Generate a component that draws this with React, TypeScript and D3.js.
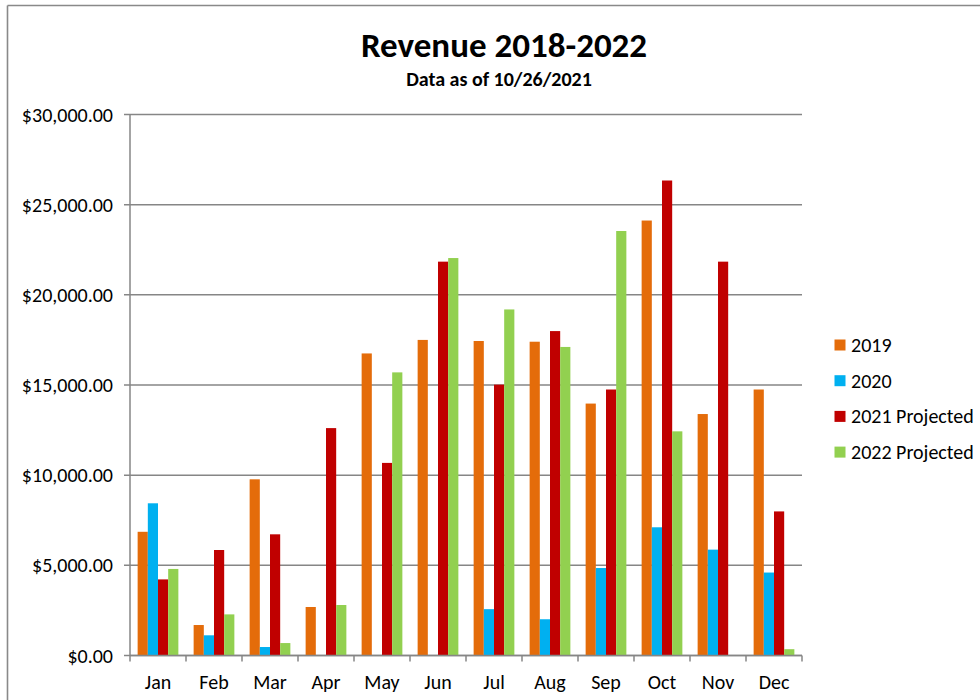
import React from "react";
import * as d3 from "d3";

const months = ["Jan", "Feb", "Mar", "Apr", "May", "Jun", "Jul", "Aug", "Sep", "Oct", "Nov", "Dec"];
const seriesNames = ["2019", "2020", "2021 Projected", "2022 Projected"];
const seriesColors = ["#E46C0A", "#00B0F0", "#C00000", "#92D050"];
const values2019 = [6860, 1690, 9770, 2690, 16750, 17500, 17440, 17400, 13970, 24120, 13390, 14750];
const values2020 = [8440, 1120, 470, 0, 0, 0, 2570, 2010, 4850, 7110, 5870, 4600];
const values2021 = [4220, 5850, 6720, 12610, 10680, 21840, 15020, 17990, 14750, 26340, 21840, 7990];
const values2022 = [4800, 2280, 690, 2800, 15700, 22040, 19190, 17110, 23540, 12430, 0, 350];
const yTicks = [0, 5000, 10000, 15000, 20000, 25000, 30000];

const FONT = "Carlito, Calibri, Lato, 'Open Sans', sans-serif";

export default function App() {
  const W = 980, H = 700;
  const left = 130, right = 802, top = 114.5, bottom = 655.5;
  const allSeries = [values2019, values2020, values2021, values2022];

  const x0 = d3.scaleBand<string>().domain(months).range([left, right]).paddingInner(0).paddingOuter(0);
  const bw = x0.bandwidth();
  const barW = bw / 5.5;
  const x1 = d3.scaleBand<string>().domain(seriesNames).range([barW * 0.75, barW * 4.75]).padding(0);
  const y = d3.scaleLinear().domain([0, 30000]).range([bottom, top]);
  const fmt = (v: number) => "$" + d3.format(",.2f")(v);

  return (
    <svg width={W} height={H} style={{ position: "absolute", left: 0, top: 0, display: "block" }}>
      <rect x={0} y={0} width={W} height={H} fill="#fff" />
      {/* outer frame */}
      <line x1={7.5} y1={5.5} x2={W} y2={5.5} stroke="#898989" strokeWidth={1.6} />
      <line x1={7.5} y1={5.5} x2={7.5} y2={H} stroke="#898989" strokeWidth={1.6} />

      <text x={504} y={57} textAnchor="middle" fontFamily={FONT} fontWeight="bold" fontSize={35} fill="#000">
        Revenue 2018-2022
      </text>
      <text x={499} y={86} textAnchor="middle" fontFamily={FONT} fontWeight="bold" fontSize={20} fill="#000">
        Data as of 10/26/2021
      </text>

      {/* gridlines and y ticks */}
      {yTicks.map((t) => (
        <g key={t}>
          <line x1={left - 6} x2={right} y1={y(t)} y2={y(t)} stroke="#868686" strokeWidth={1.5} />
          <text x={left - 17} y={y(t)} dy="0.35em" textAnchor="end" fontFamily={FONT} fontSize={20} fill="#000">
            {fmt(t)}
          </text>
        </g>
      ))}
      <line x1={left} x2={left} y1={top} y2={bottom} stroke="#868686" strokeWidth={1.5} />

      {/* bars */}
      {months.map((m, i) => (
        <g key={m}>
          {allSeries.map((s, j) =>
            s[i] > 0 ? (
              <rect
                key={j}
                x={(x0(m) as number) + (x1(seriesNames[j]) as number)}
                y={y(s[i])}
                width={x1.bandwidth()}
                height={y(0) - y(s[i])}
                fill={seriesColors[j]}
              />
            ) : null
          )}
        </g>
      ))}

      {/* x axis */}
      <line x1={left} x2={right} y1={bottom} y2={bottom} stroke="#868686" strokeWidth={1.5} />
      {d3.range(months.length + 1).map((k) => {
        const xx = left + k * bw;
        return <line key={k} x1={xx} x2={xx} y1={bottom} y2={bottom + 6} stroke="#868686" strokeWidth={1.5} />;
      })}
      {months.map((m) => (
        <text key={m} x={(x0(m) as number) + bw / 2} y={682} dy="0.35em" textAnchor="middle" fontFamily={FONT} fontSize={20} fill="#000">
          {m}
        </text>
      ))}

      {/* legend */}
      {seriesNames.map((n, j) => (
        <g key={n} transform={`translate(834.5, ${345 + j * 35.7})`}>
          <rect x={0} y={-5.5} width={11} height={11} fill={seriesColors[j]} />
          <text x={16.5} y={0} dy="0.35em" fontFamily={FONT} fontSize={20} fill="#000">
            {n}
          </text>
        </g>
      ))}
    </svg>
  );
}
